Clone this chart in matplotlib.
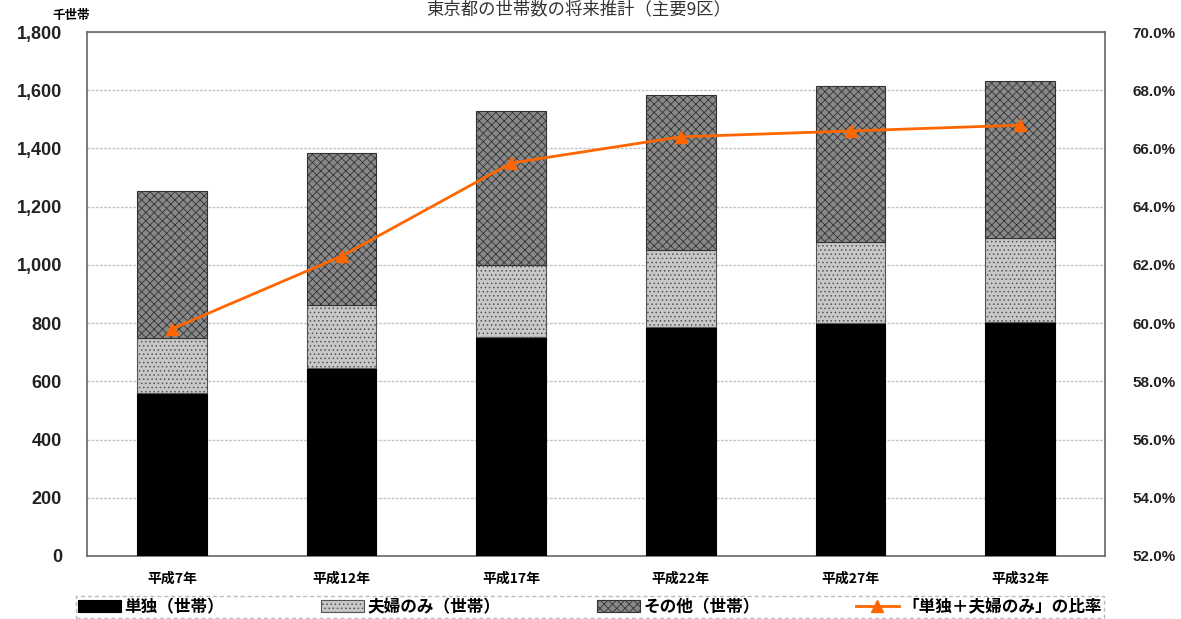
import numpy as np
import matplotlib
matplotlib.use("Agg")
import matplotlib.pyplot as plt

plt.rcParams['font.family'] = ['Noto Sans CJK JP', 'DejaVu Sans']
plt.rcParams['hatch.linewidth'] = 0.6

# data (thousand households)
years = ['平成7年', '平成12年', '平成17年', '平成22年', '平成27年', '平成32年']
single = [560, 646, 752, 787, 800, 804]
couple = [189, 216, 248, 264, 279, 288]
other = [505, 522, 529, 533, 536, 540]
ratio = [59.8, 62.3, 65.5, 66.4, 66.6, 66.8]

x = np.arange(len(years))

fig = plt.figure(figsize=(11.81, 6.19), dpi=100)
ax = fig.add_axes([0.0737, 0.1018, 0.862, 0.8465])

b1 = ax.bar(x, single, width=0.41, color='black', edgecolor='black', linewidth=0.8, zorder=3)
b2 = ax.bar(x, couple, width=0.41, bottom=single, color='#c8c8c8', edgecolor='#555555',
            hatch='....', linewidth=0.8, zorder=3)
bottom2 = np.array(single) + np.array(couple)
b3 = ax.bar(x, other, width=0.41, bottom=bottom2, color='#888888', edgecolor='#333333',
            hatch='xxxx', linewidth=0.8, zorder=3)

ax.set_ylim(0, 1800)
ax.set_yticks(range(0, 1801, 200))
ax.set_yticklabels([f'{v:,}' for v in range(0, 1801, 200)], fontsize=13, fontweight='bold',
                   color='#222222', family='Liberation Sans')
ax.set_xlim(-0.5, len(years) - 0.5)
ax.set_xticks(x)
ax.set_xticklabels(years, fontsize=10, fontweight='bold')
ax.tick_params(axis='y', length=0, pad=18)
ax.tick_params(axis='x', length=0, pad=11)
ax.grid(axis='y', color='#c4c4c4', linestyle=(0, (2, 1)), linewidth=1, zorder=0)
for s in ax.spines.values():
    s.set_color('#666666')
    s.set_linewidth(1.2)

ax2 = ax.twinx()
ln, = ax2.plot(x, ratio, color='#ff6600', linewidth=2, marker='^', markersize=8, zorder=5)
ax2.set_ylim(52, 70)
ax2.set_yticks(np.arange(52, 70.1, 2))
ax2.set_yticklabels([f'{v:.1f}%' for v in np.arange(52, 70.1, 2)], fontsize=11,
                    fontweight='bold', color='#222222', family='Liberation Sans')
ax2.tick_params(axis='y', length=0, pad=20)
for s in ax2.spines.values():
    s.set_visible(False)

fig.text(52 / 1181, 1 - 16 / 619, '千世帯', fontsize=9, fontweight='bold', ha='left', va='center')
fig.text(0.49, 1 - 9 / 619, '東京都の世帯数の将来推計（主要9区）', fontsize=12.5, ha='center', va='center',
         color='#333333')

leg = fig.legend([b1, b2, b3, ln], ['単独（世帯）', '夫婦のみ（世帯）', 'その他（世帯）', '「単独＋夫婦のみ」の比率'],
                 loc='center', bbox_to_anchor=(68 / 1181, 2 / 619, (1112 - 68) / 1181, 20 / 619),
                 mode='expand', ncol=4, frameon=True, fancybox=False, borderpad=0.1,
                 handlelength=2.6, handletextpad=0.2, prop={'weight': 'bold', 'size': 12})
leg.get_frame().set_edgecolor('#aaaaaa')
leg.get_frame().set_linestyle((0, (3, 2)))

fig.savefig('out.png', dpi=100)
